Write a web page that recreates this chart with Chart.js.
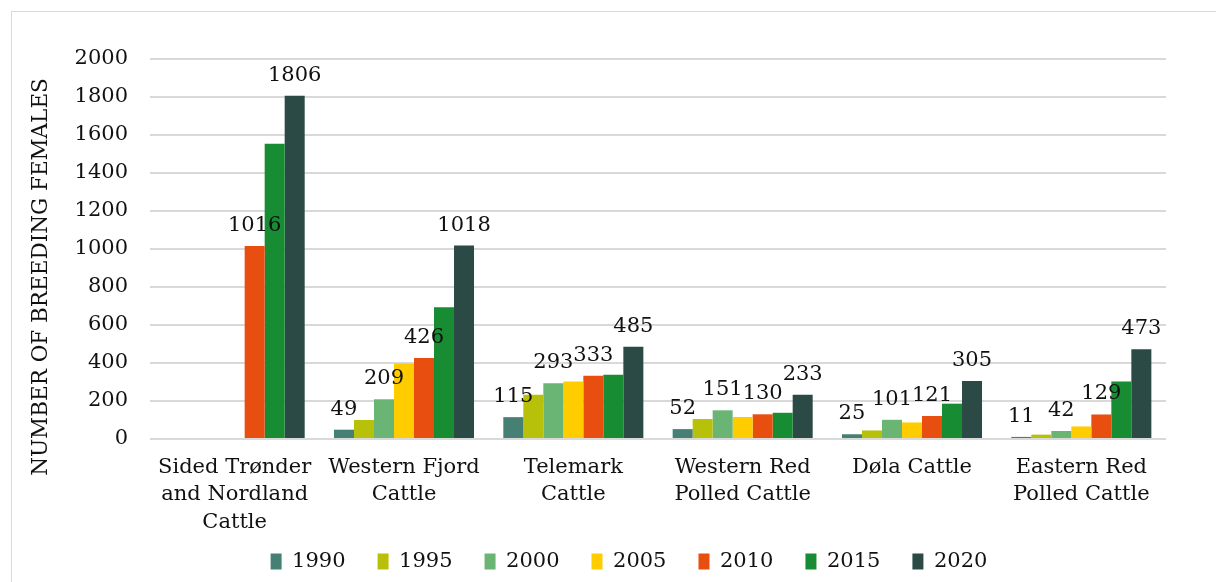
<!DOCTYPE html>
<html>
<head>
<meta charset="utf-8">
<script src="https://cdn.jsdelivr.net/npm/chart.js@4/dist/chart.umd.min.js"></script>
<style>
  body { margin: 0; background: #fff; }
  #frame { position: absolute; left: 11px; top: 11px; width: 1220px; height: 590px; border: 1px solid #d9d9d9; }
  canvas { position: absolute; left: 0; top: 0; }
</style>
</head>
<body>
<div id="frame"></div>
<canvas id="chart" width="1216" height="582"></canvas>
<script>
const categories = [
  ['Sided Trønder', 'and Nordland', 'Cattle'],
  ['Western Fjord', 'Cattle'],
  ['Telemark', 'Cattle'],
  ['Western Red', 'Polled Cattle'],
  ['Døla Cattle'],
  ['Eastern Red', 'Polled Cattle']
];
const years = ['1990', '1995', '2000', '2005', '2010', '2015', '2020'];
const colors = ['#467f73', '#b8c10a', '#6bb574', '#ffcc00', '#e84e10', '#178c32', '#2b4a45'];

const v1990 = [null, 49, 115, 52, 25, 11];
const v1995 = [null, 100, 233, 105, 45, 23];
const v2000 = [null, 209, 293, 151, 101, 42];
const v2005 = [null, 398, 303, 116, 87, 66];
const v2010 = [1016, 426, 333, 130, 121, 129];
const v2015 = [1554, 693, 338, 138, 186, 302];
const v2020 = [1806, 1018, 485, 233, 305, 473];
const seriesValues = [v1990, v1995, v2000, v2005, v2010, v2015, v2020];

// which series get a value printed above the bar
const labelledSeries = [0, 2, 4, 6];

const yTicks = [0, 200, 400, 600, 800, 1000, 1200, 1400, 1600, 1800, 2000];
const yTitle = 'NUMBER OF BREEDING FEMALES';

const FONT = '"DejaVu Serif", "Liberation Serif", serif';
const INK = '#111';

const barLabels = {
  id: 'barLabels',
  afterDatasetsDraw(chart) {
    const ctx = chart.ctx;
    ctx.save();
    ctx.font = '21px ' + FONT;
    ctx.fillStyle = INK;
    ctx.textAlign = 'center';
    ctx.textBaseline = 'bottom';
    labelledSeries.forEach(i => {
      const meta = chart.getDatasetMeta(i);
      meta.data.forEach((bar, j) => {
        const v = chart.data.datasets[i].data[j];
        if (v == null) return;
        ctx.fillText(String(v), bar.x, bar.y - 10);
      });
    });
    ctx.restore();
  }
};

// axis title placed like the original, not centred on the chart area
const sideTitle = {
  id: 'sideTitle',
  afterDraw(chart) {
    const ctx = chart.ctx;
    ctx.save();
    ctx.translate(41, 277);
    ctx.rotate(-Math.PI / 2);
    ctx.font = '21.5px ' + FONT;
    ctx.fillStyle = INK;
    ctx.textAlign = 'center';
    ctx.textBaseline = 'middle';
    ctx.fillText(yTitle, 0, 0);
    ctx.restore();
  }
};

// the legend sits a bit right of centre in the original
const legendShift = {
  id: 'legendShift',
  afterLayout(chart) {
    chart.legend.left += 46;
    chart.legend.right += 46;
  }
};

new Chart(document.getElementById('chart'), {
  type: 'bar',
  data: {
    labels: categories,
    datasets: years.map((y, i) => ({
      label: y,
      data: seriesValues[i],
      backgroundColor: colors[i],
      borderWidth: 0,
      categoryPercentage: 0.827,
      barPercentage: 1
    }))
  },
  options: {
    responsive: false,
    animation: false,
    layout: { padding: { top: 59, right: 50, left: 20, bottom: 0 } },
    scales: {
      x: {
        grid: { display: false },
        border: { display: false },
        ticks: {
          color: INK,
          font: { family: FONT, size: 21, lineHeight: 1.3 },
          maxRotation: 0,
          autoSkip: false,
          padding: 7
        },
        afterFit(scale) { scale.height = 100; }
      },
      y: {
        min: 0,
        max: 2000,
        afterBuildTicks(scale) { scale.ticks = yTicks.map(v => ({ value: v })); },
        grid: { color: '#d9d9d9', lineWidth: 2, drawTicks: false },
        border: { display: false },
        ticks: {
          color: INK,
          font: { family: FONT, size: 21 },
          padding: 22,
          callback: v => String(v)
        },
        afterFit(scale) { scale.width = 130; }
      }
    },
    plugins: {
      legend: {
        position: 'bottom',
        labels: {
          color: INK,
          font: { family: FONT, size: 21 },
          boxWidth: 11,
          boxHeight: 16,
          padding: 12,
          generateLabels(chart) {
            const items = Chart.defaults.plugins.legend.labels.generateLabels(chart);
            items.forEach(it => { it.text = it.text + '   '; });
            return items;
          }
        }
      },
      tooltip: { enabled: false }
    }
  },
  plugins: [barLabels, sideTitle, legendShift]
});
</script>
</body>
</html>
